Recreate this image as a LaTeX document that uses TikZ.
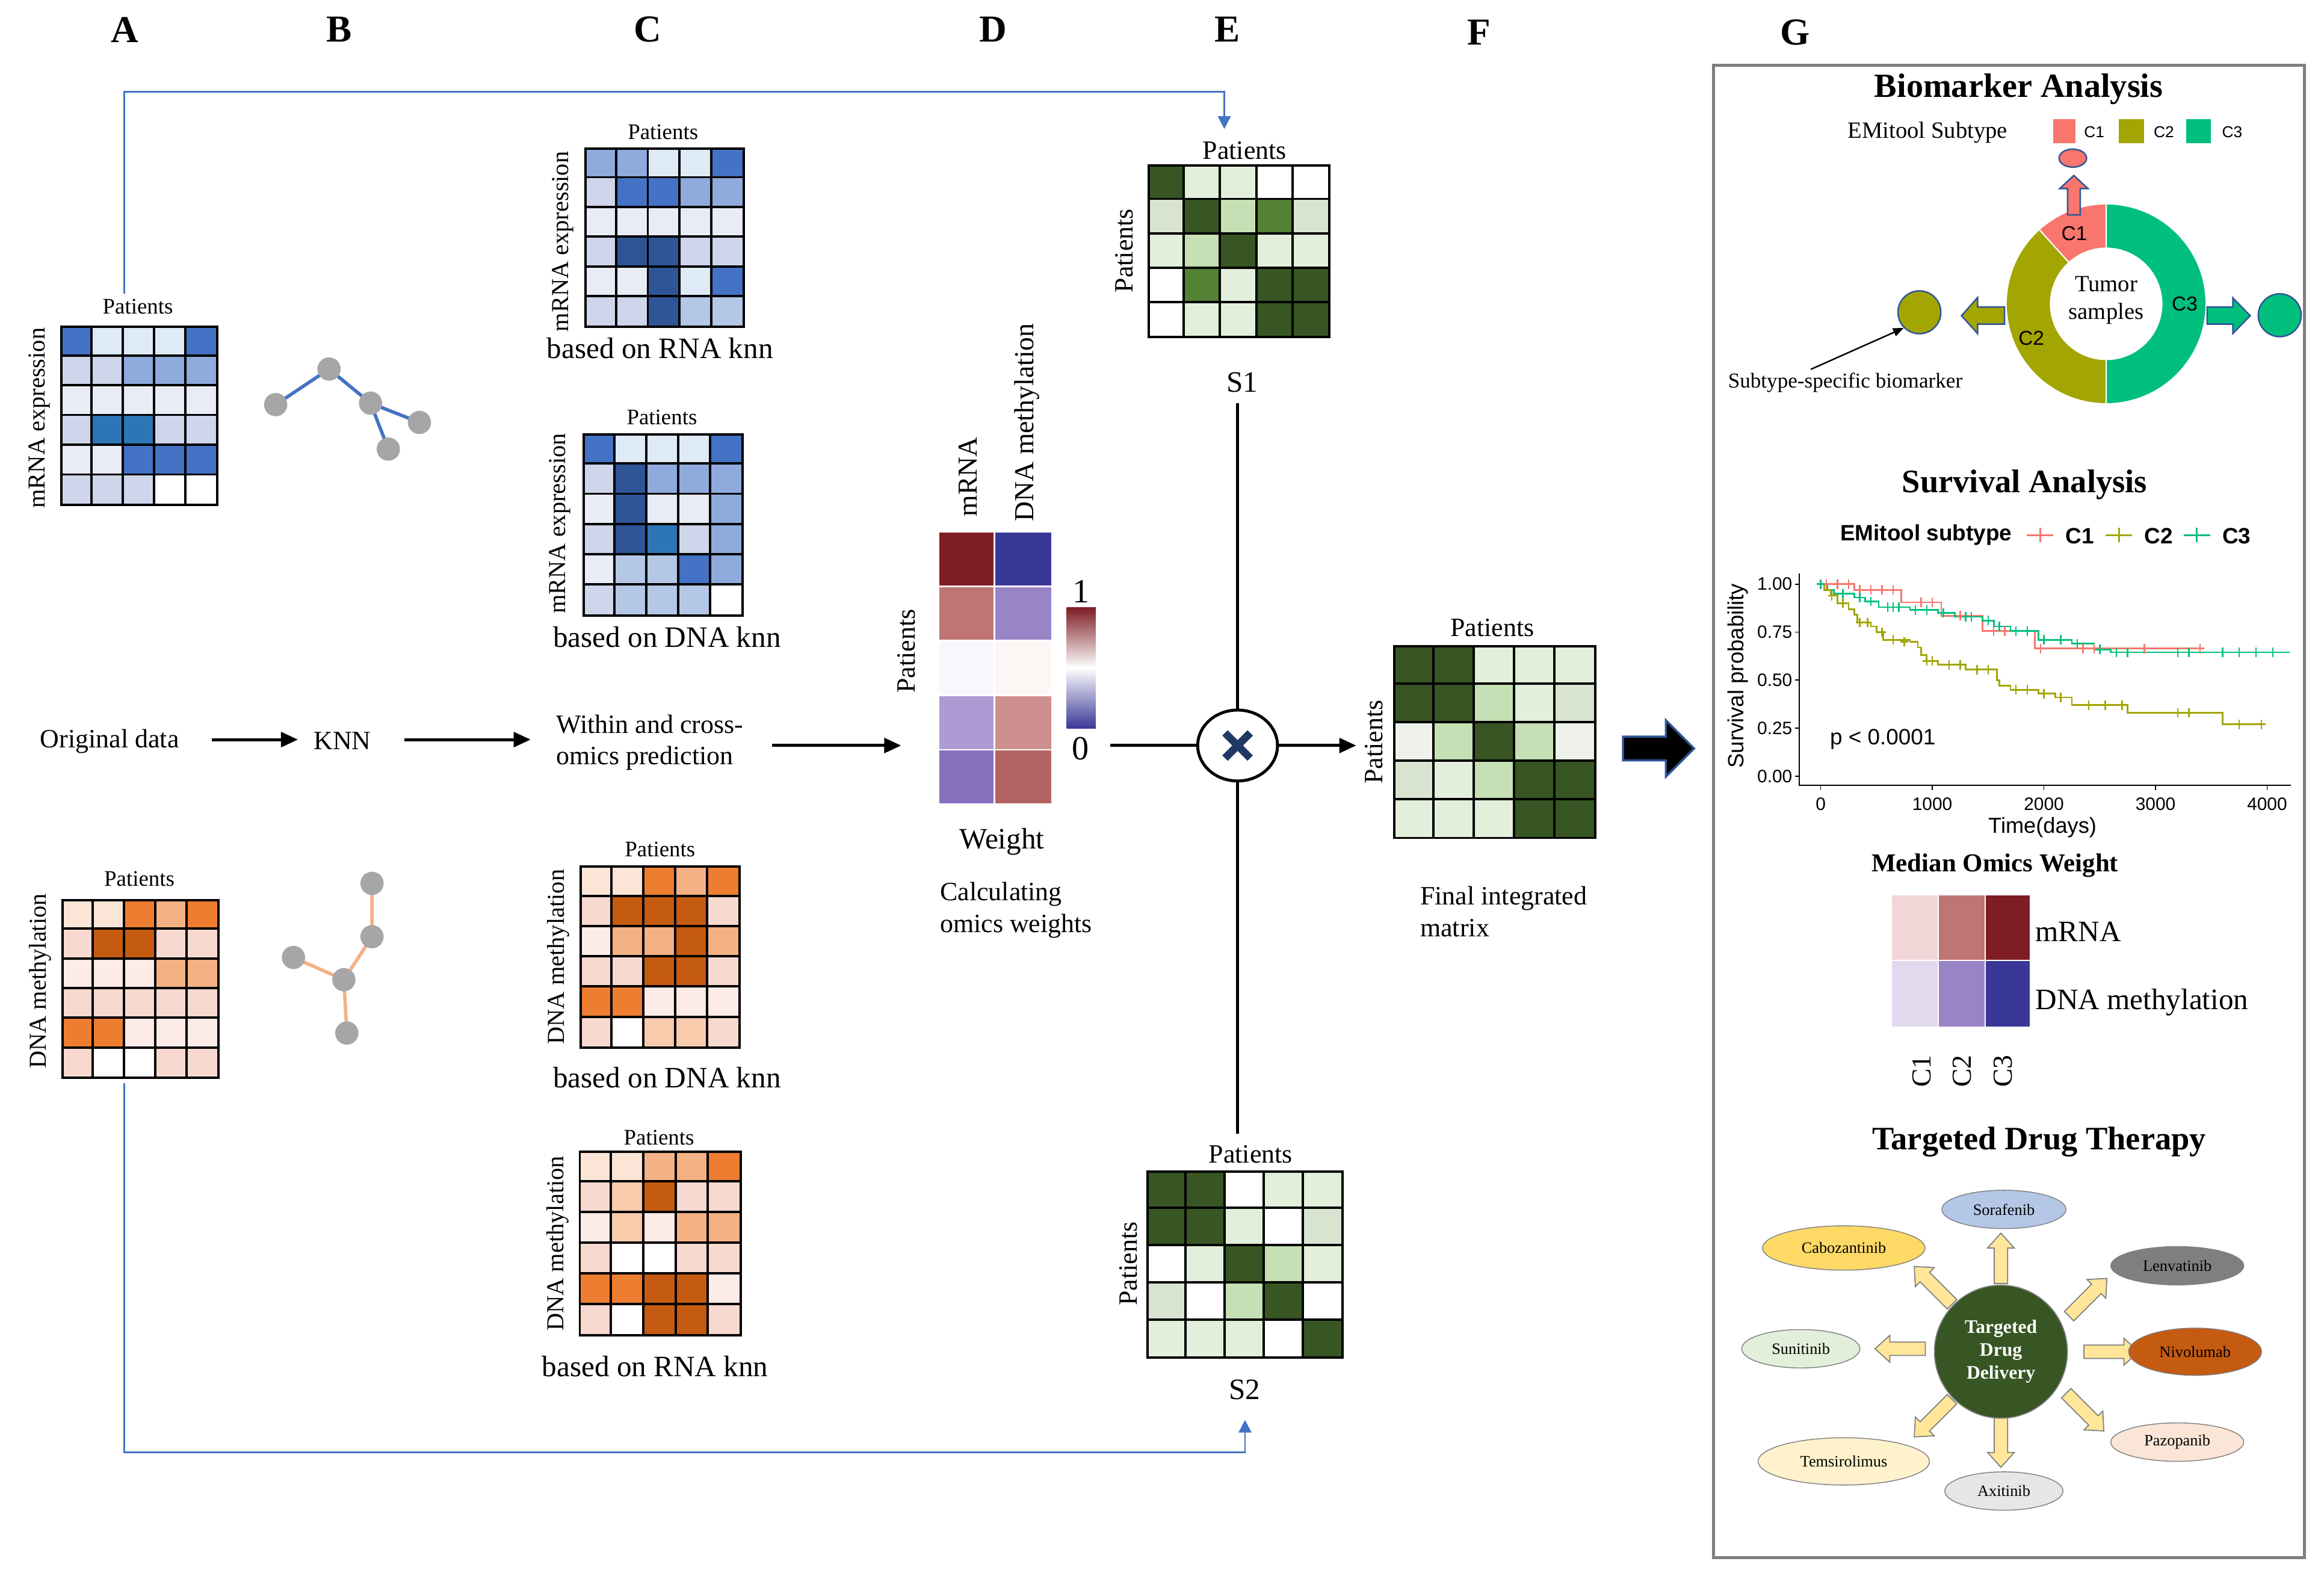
\documentclass[tikz,border=0pt]{standalone}
\usepackage{fontspec}
\setmainfont{Liberation Serif}
\setsansfont{Liberation Sans}
\usetikzlibrary{arrows.meta,shapes.geometric,calc}
% blues
\definecolor{bA}{HTML}{4472C4}\definecolor{bB}{HTML}{2E75B6}\definecolor{bC}{HTML}{2F5597}
\definecolor{bD}{HTML}{8FAADC}\definecolor{bE}{HTML}{B4C7E7}\definecolor{bF}{HTML}{CFD5EA}
\definecolor{bG}{HTML}{DEEBF7}\definecolor{bH}{HTML}{E9EBF5}
% oranges
\definecolor{oA}{HTML}{ED7D31}\definecolor{oB}{HTML}{C55A11}\definecolor{oC}{HTML}{F4B183}
\definecolor{oD}{HTML}{F8CBAD}\definecolor{oE}{HTML}{FBE5D6}\definecolor{oF}{HTML}{F8D9D0}
\definecolor{oG}{HTML}{FCEBE7}
% greens
\definecolor{gA}{HTML}{375623}\definecolor{gB}{HTML}{548235}\definecolor{gC}{HTML}{C5E0B4}
\definecolor{gD}{HTML}{E2EFDA}\definecolor{gE}{HTML}{D8E4D0}\definecolor{gF}{HTML}{EEF2EA}
% weights
\definecolor{wrA}{HTML}{7F1D25}\definecolor{wbA}{HTML}{3A3896}\definecolor{wrB}{HTML}{BE7574}
\definecolor{wbB}{HTML}{9A84C8}\definecolor{wrC}{HTML}{F7F7FC}\definecolor{wbC}{HTML}{FCF6F5}
\definecolor{wrD}{HTML}{AE9BD4}\definecolor{wbD}{HTML}{CD8F8E}\definecolor{wrE}{HTML}{8670BE}
\definecolor{wbE}{HTML}{B36363}\definecolor{mA}{HTML}{F2D6D7}\definecolor{mB}{HTML}{E2D9EF}
% subtypes
\definecolor{cA}{HTML}{F8766D}\definecolor{cB}{HTML}{A3A500}\definecolor{cC}{HTML}{00BF7D}
\definecolor{navy}{HTML}{2F5597}\definecolor{xnavy}{HTML}{203864}
\definecolor{lineblue}{HTML}{4472C4}\definecolor{boxgray}{HTML}{7F7F7F}
\definecolor{nodegray}{HTML}{A6A6A6}\definecolor{arrowyellow}{HTML}{FFE699}
\definecolor{dgreen}{HTML}{375623}\definecolor{dyellow}{HTML}{FFD966}
\definecolor{lyellow}{HTML}{FFF2CC}\definecolor{lgray}{HTML}{E7E6E6}

\def\uu{0.6985pt}
\newcommand\fs[1]{\fontsize{#1}{\dimexpr #1pt*12/10\relax}\selectfont}

\newcommand\hmgrid[7]{%
  \pgfmathsetmacro\hmw{(#4-#2)/5}%
  \pgfmathsetmacro\hmh{(#5-#3)/#6}%
  \foreach \rr [count=\ri from 0] in {#7}{%
    \foreach \cc [count=\ci from 0] in \rr{%
      \fill[fill=\cc] ({#2+\ci*\hmw},{#3+\ri*\hmh}) rectangle ({#2+(\ci+1)*\hmw},{#3+(\ri+1)*\hmh});
    }}%
  \foreach \k in {1,2,3,4}{\draw[gridln] ({#2+\k*\hmw},#3) -- ({#2+\k*\hmw},#5);}%
  \pgfmathtruncatemacro\hmn{#6-1}%
  \foreach \k in {1,...,\hmn}{\draw[gridln] (#2,{#3+\k*\hmh}) -- (#4,{#3+\k*\hmh});}%
  \node[draw, gridln, inner sep=0pt, minimum width={(#4-#2)*\uu}, minimum height={(#5-#3)*\uu}, anchor=north west] (#1) at (#2,#3) {};%
}

\newcommand\blockarrow[5]{% x, y, angle, length, fill
  \begin{scope}[shift={(#1,#2)}, rotate=#3]
    \filldraw[fill=#5, draw=gray, line width=0.5pt] (0,-4.5) -- ({#4-10},-4.5) -- ({#4-10},-9) -- (#4,0) -- ({#4-10},9) -- ({#4-10},4.5) -- (0,4.5) -- cycle;
  \end{scope}}

% censor marks of the survival plot (days, probability)
\newcommand\censor[2]{%
  \foreach \d/\s in {#2}{%
    \draw[#1, line width=0.7pt] ({1228.4+0.0753*\d},{523.7-129.6*\s-3.2}) -- ++(0,6.4)
      ({1228.4+0.0753*\d-2.6},{523.7-129.6*\s}) -- ++(5.2,0);
  }}

\tikzset{
  gridln/.style={line width=1.1pt, black},
  panel/.style={font=\fs{18}\bfseries, inner sep=0pt},
  pat/.style={font=\fs{10.5}, inner sep=0pt},
  patbig/.style={font=\fs{12.5}, inner sep=0pt},
  ylab/.style={font=\fs{11.5}, inner sep=0pt, rotate=90},
  knn/.style={font=\fs{14}, inner sep=0pt},
  body/.style={font=\fs{12.5}, inner sep=0pt, align=left},
  blueline/.style={draw=lineblue, line width=0.8pt},
  flow/.style={draw=black, line width=1.4pt, -{Triangle[width=7pt,length=8pt]}},
  gnode/.style={circle, fill=nodegray, inner sep=0pt, minimum size=11pt},
  gtitle/.style={font=\fs{16}\bfseries, inner sep=0pt},
  drug/.style={ellipse, draw=boxgray, line width=0.4pt, inner sep=0pt, font=\fs{7.5}},
  sans/.style={font=\sffamily\fs{8}, inner sep=0pt},
}

\begin{document}
\begin{tikzpicture}[x=0.02463cm, y=-0.02463cm]
\useasboundingbox (0,0) rectangle (1568,1067);
\fill[white] (0,0) rectangle (1568,1067);

% panel letters
\node[panel] (LA) at (84,20) {A};
\node[panel] (LB) at (229,20) {B};
\node[panel] (LC) at (437,20) {C};
\node[panel] (LD) at (670,20) {D};
\node[panel] (LE) at (828,20) {E};
\node[panel] (LF) at (998,22) {F};
\node[panel] (LG) at (1211,22) {G};

% ---------- A ----------
\hmgrid{hA1}{40.6}{219.7}{146.2}{340.2}{6}{{bA,bG,bG,bG,bA},{bF,bF,bD,bD,bD},{bH,bH,bH,bH,bH},{bF,bB,bB,bF,bF},{bH,bH,bA,bA,bA},{bF,bF,bF,white,white}}
\node[pat] (pA1) at (93,207) {Patients};
\node[ylab] (yA1) at (26.5,282) {mRNA expression};

\hmgrid{hA2}{41.3}{606.6}{146.8}{726.7}{6}{{oE,oE,oA,oC,oA},{oF,oB,oB,oF,oF},{oG,oG,oG,oC,oC},{oF,oF,oF,oF,oF},{oA,oA,oG,oG,oG},{oF,white,white,oF,oF}}
\node[pat] (pA2) at (94,593) {Patients};
\node[ylab] (yA2) at (27,662) {DNA methylation};

% ---------- B ----------
\coordinate (n1) at (222,249);
\coordinate (n2) at (186,273);
\coordinate (n3) at (250,272);
\coordinate (n4) at (283,285);
\coordinate (n5) at (262,303);
\draw[draw=lineblue, line width=1.6pt] (n2) -- (n1) -- (n3) -- (n4) (n3) -- (n5);
\foreach \p in {n1,n2,n3,n4,n5}{\node[gnode] at (\p) {};}

\coordinate (m1) at (251,596);
\coordinate (m2) at (251,632);
\coordinate (m3) at (232,661);
\coordinate (m4) at (198,646);
\coordinate (m5) at (234,697);
\draw[draw=oC, line width=1.6pt] (m1) -- (m2) -- (m3) -- (m4) (m3) -- (m5);
\foreach \p in {m1,m2,m3,m4,m5}{\node[gnode] at (\p) {};}

% ---------- middle row ----------
\node[body] (orig) at (74,500) {Original data};
\node[body] (knn) at (231,500) {KNN};
\node[body, anchor=west] (within) at (375,501) {Within and cross-\\omics prediction};
\coordinate (o1) at (143,499);
\coordinate (o2) at (201,499);
\draw[flow] (o1) -- (o2);
\coordinate (k1) at (273,499);
\coordinate (k2) at (358,499);
\draw[flow] (k1) -- (k2);
\coordinate (w1) at (521,503);
\coordinate (Din) at (608,503);
\draw[flow] (w1) -- (Din);

% ---------- C ----------
\hmgrid{hC1}{394.2}{99.5}{501.4}{219.9}{6}{{bD,bD,bG,bG,bA},{bF,bA,bA,bD,bD},{bH,bH,bH,bH,bH},{bF,bC,bC,bF,bF},{bH,bH,bC,bG,bA},{bF,bF,bC,bE,bE}}
\node[pat] (pC1) at (447.3,89.3) {Patients};
\node[ylab] (yC1) at (379.6,163) {mRNA expression};
\node[knn] (tC1) at (445.3,235) {based on RNA knn};

\hmgrid{hC2}{393.1}{292.3}{500.7}{414.8}{6}{{bA,bG,bG,bG,bA},{bF,bC,bD,bD,bD},{bH,bC,bH,bH,bD},{bF,bC,bB,bF,bD},{bH,bE,bE,bA,bD},{bF,bE,bE,bE,white}}
\node[pat] (pC2) at (446.6,281.5) {Patients};
\node[ylab] (yC2) at (377.6,353.2) {mRNA expression};
\node[knn] (tC2) at (450,430) {based on DNA knn};

\hmgrid{hC3}{391.1}{584}{498.7}{706.4}{6}{{oE,oE,oA,oC,oA},{oF,oB,oB,oB,oF},{oG,oC,oC,oB,oC},{oF,oF,oB,oB,oF},{oA,oA,oG,oG,oG},{oF,white,oD,oD,oF}}
\node[pat] (pC3) at (445.3,573.2) {Patients};
\node[ylab] (yC3) at (376.9,645.6) {DNA methylation};
\node[knn] (tC3) at (450,727) {based on DNA knn};

\hmgrid{hC4}{390.4}{776.2}{499.4}{900.6}{6}{{oE,oE,oC,oC,oA},{oF,oD,oB,oF,oF},{oG,oD,oG,oC,oC},{oF,white,white,oF,oF},{oA,oA,oB,oB,oG},{oF,white,oB,oB,oF}}
\node[pat] (pC4) at (444.6,767.4) {Patients};
\node[ylab] (yC4) at (376.2,839) {DNA methylation};
\node[knn] (tC4) at (442,922) {based on RNA knn};

% ---------- D ----------
\foreach \ri/\ca/\cb in {0/wrA/wbA,1/wrB/wbB,2/wrC/wbC,3/wrD/wbD,4/wrE/wbE}{
  \filldraw[fill=\ca, draw=white, line width=0.8pt] (633,{358.7+\ri*36.8}) rectangle (671,{358.7+(\ri+1)*36.8});
  \filldraw[fill=\cb, draw=white, line width=0.8pt] (671,{358.7+\ri*36.8}) rectangle (710,{358.7+(\ri+1)*36.8});
}
\node[inner sep=0pt, minimum width={77*\uu}, minimum height={184*\uu}, anchor=north west] (wmap) at (633,358.7) {};
\node[ylab, font=\fs{13}] (dm) at (653,321.6) {mRNA};
\node[ylab, font=\fs{13}, anchor=west] (dd) at (693,352) {DNA methylation};
\node[ylab, font=\fs{12.5}] (dp) at (611.7,439.4) {Patients};
\shade[top color=wrA, bottom color=wbA, middle color=white] (719.7,410) rectangle (739.3,491.3);
\node[font=\fs{16}, inner sep=0pt] (one) at (729.5,399) {1};
\node[font=\fs{16}, inner sep=0pt] (zero) at (728.8,505) {0};
\node[knn] (weight) at (676,568) {Weight};
\node[body, anchor=west] (calc) at (634,614) {Calculating\\omics weights};

% ---------- E ----------
\hmgrid{hS1}{774.1}{111}{896.6}{227}{5}{{gA,gD,gD,white,white},{gE,gA,gC,gB,gE},{gD,gC,gA,gD,gD},{white,gB,gD,gA,gA},{white,gD,gD,gA,gA}}
\node[patbig] (pE1) at (839.7,101.5) {Patients};
\node[ylab, font=\fs{12.5}] (yE1) at (758.5,169.2) {Patients};
\node[knn] (s1) at (838,258) {S1};

\hmgrid{hS2}{773.4}{789.7}{905.4}{915.5}{5}{{gA,gA,white,gD,gD},{gA,gA,gD,white,gE},{white,gD,gA,gC,gD},{gE,white,gC,gA,white},{gD,gD,gD,white,gA}}
\node[patbig] (pE2) at (843.8,778.8) {Patients};
\node[ylab, font=\fs{12.5}] (yE2) at (761.3,852.6) {Patients};
\node[knn] (s2) at (839.7,937.8) {S2};

\node[ellipse, draw, line width=1.4pt, minimum width={54*\uu}, minimum height={48*\uu}, inner sep=0pt] (mult) at (835,503) {};
\draw[xnavy, line width=3.6pt] (826.5,494.5) -- (843.5,511.5) (826.5,511.5) -- (843.5,494.5);
\coordinate (s1b) at (835,272);
\coordinate (s2t) at (835,765);
\draw[line width=1.4pt] (mult.north) -- (s1b);
\draw[line width=1.4pt] (mult.south) -- (s2t);
\coordinate (wout) at (749,503);
\draw[line width=1.4pt] (wout) -- (mult.west);
\coordinate (Fin) at (915,503);
\draw[flow] (mult.east) -- (Fin);

% blue connectors
\coordinate (blA) at (84,198);
\coordinate (blAc) at (826,62);
\coordinate (S1in) at (826,87);
\draw[blueline, -{Triangle[width=6pt,length=6pt]}] (blA) |- (blAc) -- (S1in);
\coordinate (blB) at (84,731);
\coordinate (blBc) at (840,980);
\coordinate (S2in) at (840,958);
\draw[blueline, -{Triangle[width=6pt,length=6pt]}] (blB) |- (blBc) -- (S2in);

% ---------- F ----------
\hmgrid{hF}{939.9}{435.1}{1075.9}{565}{5}{{gA,gA,gD,gD,gD},{gA,gA,gC,gD,gE},{gF,gC,gA,gC,gF},{gE,gD,gC,gA,gA},{gD,gD,gD,gA,gA}}
\node[patbig] (pF) at (1006.9,423.6) {Patients};
\node[ylab, font=\fs{12.5}] (yF) at (927,500.7) {Patients};
\node[body, anchor=west] (fin) at (958,615) {Final integrated\\matrix};

\filldraw[fill=black, draw=navy, line width=1pt] (1095,497) -- (1124,497) -- (1124,486) -- (1143,505) -- (1124,524) -- (1124,513) -- (1095,513) -- cycle;

% ---------- G ----------
\node[draw=boxgray, line width=1.4pt, inner sep=0pt, minimum width={400*\uu}, minimum height={1010*\uu}, anchor=north west] (gbox) at (1155,43) {};
\node[gtitle] (tBio) at (1362,60) {Biomarker Analysis};
\node[font=\fs{11}, inner sep=0pt] (emi) at (1300.6,89.5) {EMitool Subtype};
\fill[cA] (1385.3,80.4) rectangle (1400.3,96.6);
\fill[cB] (1429.6,80.4) rectangle (1446.4,96.6);
\fill[cC] (1474.9,80.4) rectangle (1491.7,96.6);
\node[sans, font=\sffamily\fs{7.5}] (lc1) at (1413,89) {C1};
\node[sans, font=\sffamily\fs{7.5}] (lc2) at (1460,89) {C2};
\node[sans, font=\sffamily\fs{7.5}] (lc3) at (1506,89) {C3};

\begin{scope}[shift={(1421,205)}, yscale=-1]
  \fill[cC] (90:67) arc[start angle=90, end angle=-90, radius=67] -- (-90:38) arc[start angle=-90, end angle=90, radius=38] -- cycle;
  \fill[cA] (90:67) arc[start angle=90, end angle=132, radius=67] -- (132:38) arc[start angle=132, end angle=90, radius=38] -- cycle;
  \fill[cB] (132:67) arc[start angle=132, end angle=270, radius=67] -- (270:38) arc[start angle=270, end angle=132, radius=38] -- cycle;
  \draw[white, line width=0.6pt] (90:38) -- (90:67) (132:38) -- (132:67) (270:38) -- (270:67);
\end{scope}
\node[sans, font=\sffamily\fs{9.5}] (dc1) at (1399.5,157.7) {C1};
\node[sans, font=\sffamily\fs{9.5}] (dc2) at (1370.5,228.3) {C2};
\node[sans, font=\sffamily\fs{9.5}] (dc3) at (1474,205) {C3};
\node[font=\fs{11}, inner sep=0pt, align=center] (tum) at (1421,202.6) {Tumor\\samples};

\filldraw[fill=cA, draw=navy, line width=0.7pt] (1395,145) -- (1395,127.2) -- (1389.7,127.2) -- (1399.2,118.4) -- (1408.7,127.2) -- (1403.5,127.2) -- (1403.5,145) -- cycle;
\node[ellipse, fill=cA, draw=navy, line width=0.7pt, minimum width={18.6*\uu}, minimum height={12.2*\uu}, inner sep=0pt] (bm1) at (1398.5,106.7) {};
\filldraw[fill=cB, draw=navy, line width=0.7pt] (1352.4,207.1) -- (1334.3,207.1) -- (1334.3,200.7) -- (1323.4,213) -- (1334.3,225.1) -- (1334.3,218.7) -- (1352.4,218.7) -- cycle;
\node[circle, fill=cB, draw=navy, line width=0.7pt, minimum size={29*\uu}, inner sep=0pt] (bm2) at (1295,210.7) {};
\filldraw[fill=cC, draw=navy, line width=0.7pt] (1489.2,207.1) -- (1506.5,207.1) -- (1506.5,201) -- (1518.2,213) -- (1506.5,225) -- (1506.5,218.7) -- (1489.2,218.7) -- cycle;
\node[circle, fill=cC, draw=navy, line width=0.7pt, minimum size={29*\uu}, inner sep=0pt] (bm3) at (1538.1,212.7) {};
\node[font=\fs{10}, inner sep=0pt] (ssb) at (1245,258) {Subtype-specific biomarker};
\coordinate (ssbA) at (1221.7,249.2);
\draw[line width=0.7pt, -{Triangle[width=4pt,length=5pt]}] (ssbA) -- (bm2.south west);

% survival
\node[gtitle, font=\fs{15.5}\bfseries] (tSur) at (1366,327) {Survival Analysis};
\node[font=\sffamily\bfseries\fs{10.5}, inner sep=0pt] (leg) at (1299.5,361) {EMitool subtype};
\foreach \xx/\cl/\lb/\nm in {1376.4/cA/C1/la,1429.6/cB/C2/lb,1482.2/cC/C3/lc}{
  \draw[\cl, line width=0.8pt] (\xx-9,361) -- (\xx+9,361) (\xx,356) -- (\xx,366);
  \node[font=\sffamily\bfseries\fs{10.5}, inner sep=0pt, anchor=west] (\nm) at (\xx+17,361.5) {\lb};
}
\coordinate (ax0) at (1214,530);
\coordinate (axT) at (1214,387);
\coordinate (axR) at (1545.7,530);
\draw[line width=0.6pt] (axT) -- (ax0) -- (axR);
\foreach \v/\yy in {1.00/394.1,0.75/426.5,0.50/458.9,0.25/491.3,0.00/523.7}{
  \draw[line width=0.5pt] (1211,\yy) -- (1214,\yy);
  \node[sans, anchor=east, font=\sffamily\fs{8.5}] at (1209.5,\yy) {\v};
}
\foreach \v/\xx in {0/1228.4,1000/1303.7,2000/1379,3000/1454.3,4000/1529.6}{
  \draw[line width=0.5pt] (\xx,530) -- (\xx,533);
  \node[sans, font=\sffamily\fs{8.5}] at (\xx,542.3) {\v};
}
\node[sans, font=\sffamily\fs{10.3}] (tdays) at (1378,558.2) {Time(days)};
\node[sans, font=\sffamily\fs{10.4}, rotate=90] (sprob) at (1172.5,456) {Survival probability};
\node[sans, font=\sffamily\fs{10.5}] (pv) at (1270.3,498.8) {p < 0.0001};
\begin{scope}[shift={(1228.4,523.7)}, xscale=0.07530, yscale=-129.6]
  \draw[cA, line width=0.8pt] plot[const plot] coordinates {(0,1) (300,0.97) (720,0.905) (1080,0.835) (1450,0.755) (1920,0.665) (3430,0.665)};
  \draw[cC, line width=0.8pt] plot[const plot] coordinates {(0,1) (60,0.97) (120,0.95) (300,0.93) (400,0.91) (520,0.88) (800,0.865) (1050,0.85) (1200,0.83) (1450,0.81) (1550,0.78) (1700,0.755) (1950,0.71) (2250,0.69) (2450,0.66) (2600,0.645) (4200,0.645)};
  \draw[cB, line width=0.8pt] plot[const plot] coordinates {(0,1) (30,0.97) (90,0.94) (150,0.9) (250,0.87) (300,0.84) (330,0.8) (450,0.78) (500,0.75) (560,0.71) (800,0.7) (870,0.67) (900,0.63) (950,0.6) (1050,0.58) (1300,0.555) (1580,0.5) (1600,0.47) (1700,0.45) (1950,0.43) (2100,0.41) (2250,0.37) (2750,0.33) (3600,0.27) (3980,0.27)};
\end{scope}
\censor{cA}{50/1,150/1,250/1,350/0.97,450/0.97,550/0.97,650/0.97,900/0.905,1000/0.905,1250/0.835,1550/0.755,1650/0.755,1970/0.665,2350/0.665,2450/0.665,2900/0.665,3400/0.665}
\censor{cC}{0/1,200/0.95,350/0.93,450/0.91,600/0.88,650/0.88,700/0.88,850/0.865,950/0.865,1100/0.85,1300/0.83,1350/0.83,1500/0.81,1600/0.78,1750/0.755,1850/0.755,2000/0.71,2150/0.71,2300/0.69,2500/0.66,2650/0.645,2750/0.645,3200/0.645,3300/0.645,3600/0.645,3750/0.645,3900/0.645,4050/0.645}
\censor{cB}{100/0.94,200/0.9,350/0.8,420/0.8,550/0.75,650/0.71,750/0.7,950/0.6,1000/0.6,1150/0.58,1250/0.58,1400/0.555,1500/0.555,1750/0.45,1850/0.45,2000/0.43,2150/0.41,2400/0.37,2550/0.37,2700/0.37,3200/0.33,3300/0.33,3750/0.27,3950/0.27}

% median omics weight
\node[font=\fs{12.2}\bfseries, inner sep=0pt] (tMed) at (1346,584) {Median Omics Weight};
\foreach \xa/\xb/\ca/\cb in {1276.1/1307.9/mA/mB,1307.9/1339.5/wrB/wbB,1339.5/1370/wrA/wbA}{
  \filldraw[fill=\ca, draw=white, line width=0.6pt] (\xa,603.8) rectangle (\xb,648);
  \filldraw[fill=\cb, draw=white, line width=0.6pt] (\xa,648) rectangle (\xb,693);
}
\node[font=\fs{14}, inner sep=0pt, anchor=west] (mm) at (1373,628.4) {mRNA};
\node[font=\fs{14}, inner sep=0pt, anchor=west] (md) at (1373,676.3) {DNA methylation};
\node[font=\fs{13}, inner sep=0pt, rotate=90] (mc1) at (1296.8,722.7) {C1};
\node[font=\fs{13}, inner sep=0pt, rotate=90] (mc2) at (1324,722.7) {C2};
\node[font=\fs{13}, inner sep=0pt, rotate=90] (mc3) at (1351.3,722.7) {C3};

% drug therapy
\node[gtitle, font=\fs{15.5}\bfseries] (tDrug) at (1375.8,770.5) {Targeted Drug Therapy};
\blockarrow{1350}{866}{90}{34}{arrowyellow}
\blockarrow{1317}{880}{135}{36}{arrowyellow}
\blockarrow{1396}{888}{45}{36}{arrowyellow}
\blockarrow{1299}{910}{180}{34}{arrowyellow}
\blockarrow{1406}{912}{0}{37}{arrowyellow}
\blockarrow{1317}{944}{225}{36}{arrowyellow}
\blockarrow{1350}{956}{270}{34}{arrowyellow}
\blockarrow{1394}{940}{315}{36}{arrowyellow}
\node[circle, fill=dgreen, draw=gray, line width=0.5pt, minimum size={90*\uu}, inner sep=0pt, align=center, text=white, font=\fs{9}\bfseries] (tdd) at (1350,912) {Targeted\\Drug\\Delivery};
\node[drug, fill=bE, minimum width={84*\uu}, minimum height={26*\uu}] (d1) at (1352,816) {Sorafenib};
\node[drug, fill=dyellow, minimum width={110*\uu}, minimum height={30*\uu}] (d2) at (1244,842) {Cabozantinib};
\node[drug, fill=boxgray, minimum width={90*\uu}, minimum height={26*\uu}] (d3) at (1469,854) {Lenvatinib};
\node[drug, fill=gD, minimum width={80*\uu}, minimum height={26*\uu}] (d4) at (1215,910) {Sunitinib};
\node[drug, fill=oB, minimum width={90*\uu}, minimum height={32*\uu}] (d5) at (1481,912) {Nivolumab};
\node[drug, fill=lyellow, minimum width={116*\uu}, minimum height={32*\uu}] (d6) at (1244,986) {Temsirolimus};
\node[drug, fill=lgray, minimum width={80*\uu}, minimum height={26*\uu}] (d7) at (1352,1006) {Axitinib};
\node[drug, fill=oE, minimum width={90*\uu}, minimum height={26*\uu}] (d8) at (1469,973) {Pazopanib};
\end{tikzpicture}
\end{document}
